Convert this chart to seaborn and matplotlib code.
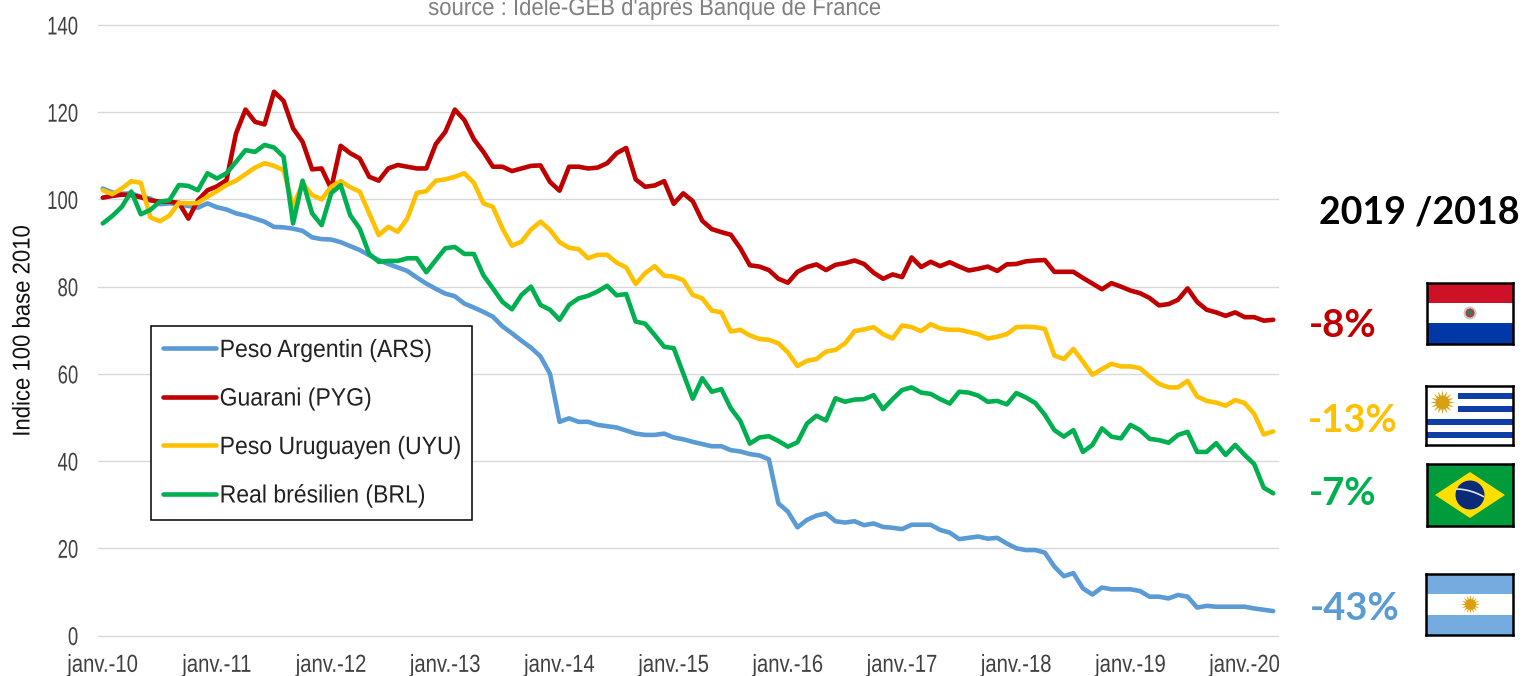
import numpy as np
import pandas as pd
import seaborn as sns
import matplotlib.pyplot as plt
from matplotlib.patches import Circle, Polygon, Rectangle
from matplotlib.patheffects import AbstractPathEffect
from matplotlib.transforms import Affine2D

W, H = 1524, 676

ars = [102.5, 101.6, 101.3, 101.4, 100.6, 100.2, 98.9, 99.1, 98.9, 98.5, 98.1, 99.1,
       98.2, 97.7, 96.8, 96.3, 95.6, 94.9, 93.7, 93.6, 93.3, 92.8, 91.3, 90.9,
       90.8, 90.2, 89.3, 88.4, 87.2, 86.1, 85.2, 84.4, 83.6, 82.1, 80.7, 79.5,
       78.4, 77.8, 76.1, 75.2, 74.2, 73.1, 70.9, 69.3, 67.6, 66, 64, 60,
       49, 49.8, 49, 49, 48.3, 48, 47.7, 47, 46.3, 46, 46, 46.3,
       45.4, 45, 44.4, 43.9, 43.4, 43.4, 42.5, 42.2, 41.6, 41.3, 40.4, 30.3,
       28.4, 24.8, 26.5, 27.5, 28, 26.2, 25.9, 26.2, 25.3, 25.7, 24.9, 24.7,
       24.4, 25.4, 25.4, 25.4, 24.2, 23.6, 22.1, 22.4, 22.7, 22.2, 22.4, 21.1,
       20, 19.6, 19.6, 19, 15.8, 13.6, 14.3, 10.8, 9.4, 11, 10.6, 10.6,
       10.6, 10.2, 8.9, 8.9, 8.5, 9.3, 8.9, 6.4, 6.8, 6.6, 6.6, 6.6,
       6.6, 6.2, 5.9, 5.6]
pyg = [100.4, 100.8, 101.1, 101, 100.5, 99.8, 99.5, 99.5, 99.2, 95.6, 99.8, 102.1,
       103, 104.4, 115.1, 120.6, 117.8, 117.2, 124.7, 122.6, 116.3, 113.2, 106.9, 107.1,
       102.5, 112.3, 110.6, 109.4, 105.2, 104.3, 107.1, 107.9, 107.5, 107.1, 107.1, 112.7,
       115.5, 120.6, 118.2, 113.8, 110.9, 107.5, 107.5, 106.5, 107.1, 107.7, 107.8, 104,
       102, 107.5, 107.5, 107.1, 107.3, 108.3, 110.6, 111.8, 104.6, 102.9, 103.2, 104.2,
       99, 101.4, 99.6, 95.1, 93.2, 92.5, 91.9, 88.8, 84.9, 84.6, 83.8, 81.8,
       80.9, 83.4, 84.5, 85.1, 83.8, 85, 85.4, 86, 85.2, 83.2, 81.8, 82.8,
       82.2, 86.7, 84.5, 85.7, 84.7, 85.6, 84.6, 83.7, 84.1, 84.6, 83.6, 85.1,
       85.2, 85.8, 86, 86.1, 83.4, 83.4, 83.4, 82, 80.7, 79.4, 80.8, 80,
       79.1, 78.5, 77.4, 75.7, 76, 77, 79.6, 76.5, 74.7, 74.1, 73.3, 74.1,
       73, 73, 72.2, 72.4]
uyu = [102.1, 101.2, 102.5, 104.2, 103.8, 95.9, 95, 96.3, 99.2, 99.1, 99.2, 100.6,
       101.9, 103.3, 104.3, 105.8, 107.3, 108.3, 107.7, 106.7, 98.3, 103.7, 101, 100,
       102.9, 104.2, 102.8, 101.8, 96.8, 91.8, 93.7, 92.6, 95.6, 101.5, 101.9, 104.3,
       104.6, 105.2, 106, 103.8, 99.1, 98.3, 93.3, 89.4, 90.3, 93.1, 94.9, 93,
       90.2, 88.9, 88.6, 86.5, 87.3, 87.3, 85.5, 84.4, 80.6, 83.1, 84.7, 82.5,
       82.3, 81.5, 78.1, 77.3, 74.5, 74.1, 69.7, 70.1, 68.8, 68, 67.8, 67,
       64.9, 61.8, 63, 63.4, 65.1, 65.5, 67, 69.8, 70.2, 70.7, 69.1, 68.1,
       71.1, 70.7, 69.8, 71.4, 70.4, 70.1, 70.1, 69.6, 69.1, 68.1, 68.5, 69.1,
       70.7, 70.8, 70.7, 70.3, 64.2, 63.4, 65.7, 62.8, 59.8, 61.1, 62.3, 61.7,
       61.7, 61.3, 59.4, 57.7, 56.9, 56.9, 58.4, 54.8, 53.8, 53.4, 52.7, 54,
       53.3, 50.8, 46.1, 46.8]
brl = [94.5, 96.2, 98.3, 101.8, 96.6, 97.6, 99.5, 99.8, 103.3, 103.1, 102.1, 106,
       104.8, 106, 108.6, 111.3, 110.9, 112.5, 111.9, 109.8, 94.5, 104.3, 96.8, 94.1,
       101.4, 103.3, 96.4, 93.3, 87.5, 85.7, 85.9, 85.9, 86.5, 86.5, 83.3, 86.1,
       88.8, 89.1, 87.5, 87.5, 82.6, 79.6, 76.5, 74.8, 78.1, 80, 75.8, 74.7,
       72.4, 75.8, 77.3, 77.9, 78.9, 80.2, 78, 78.3, 72, 71.5, 68.9, 66.2,
       65.9, 60.1, 54.3, 59, 55.9, 56.5, 52.1, 49.2, 44, 45.4, 45.7, 44.6,
       43.3, 44.3, 48.6, 50.4, 49.3, 54.4, 53.6, 54.1, 54.2, 55.1, 51.9, 54.2,
       56.3, 56.9, 55.7, 55.4, 54.2, 53.2, 55.9, 55.7, 55, 53.6, 53.8, 53,
       55.6, 54.6, 53.3, 50.6, 47.1, 45.6, 47.1, 42.1, 43.7, 47.5, 45.6, 45.2,
       48.3, 47.1, 45.1, 44.8, 44.2, 46, 46.7, 42.1, 42.1, 44.1, 41.4, 43.7,
       41.4, 39.3, 33.9, 32.6]

devises = ['Peso Argentin (ARS)', 'Guarani (PYG)', 'Peso Uruguayen (UYU)', 'Real brésilien (BRL)']
couleurs = ['#5B9BD5', '#C00000', '#FFC000', '#00B050']
annees = ['janv.-10', 'janv.-11', 'janv.-12', 'janv.-13', 'janv.-14', 'janv.-15',
          'janv.-16', 'janv.-17', 'janv.-18', 'janv.-19', 'janv.-20']
yticks = [0, 20, 40, 60, 80, 100, 120, 140]
variations = ['-43%', '-8%', '-13%', '-7%']


class Condense(AbstractPathEffect):
    """Resserre un texte en largeur (pas de police étroite installée)."""

    def __init__(self, sx, anchor=0.5):
        super().__init__()
        self.sx = sx
        self.anchor = anchor

    def draw_path(self, renderer, gc, tpath, affine, rgbFace=None):
        ext = tpath.get_extents()
        x0 = ext.x0 + self.anchor * ext.width
        squeeze = Affine2D().translate(-x0, 0).scale(self.sx, 1).translate(x0, 0)
        renderer.draw_path(gc, tpath, squeeze + affine, rgbFace)


df = pd.DataFrame({'mois': np.arange(len(ars)), devises[0]: ars, devises[1]: pyg,
                   devises[2]: uyu, devises[3]: brl})
df = df.melt(id_vars='mois', var_name='devise', value_name='indice')

sns.set_theme(style='white')
plt.rcParams['font.family'] = ['Liberation Sans', 'DejaVu Sans']

fig = plt.figure(figsize=(W / 100, H / 100), dpi=100)
ax = fig.add_axes([98 / W, 1 - 635.5 / H, 1180 / W, 610.5 / H])
sns.lineplot(data=df, x='mois', y='indice', hue='devise', hue_order=devises,
             palette=couleurs, linewidth=3.3, errorbar=None, ax=ax)
ax.set_xlim(-0.5, 123.5)
ax.set_ylim(0, 140)
ax.set_xticks(np.arange(len(annees)) * 12)
ax.set_xticklabels(annees, fontsize=17.8, color='#404040')
ax.set_yticks(yticks)
ax.set_yticklabels(yticks, fontsize=18.5, color='#404040')
ax.tick_params(axis='x', length=0, pad=12.5)
ax.tick_params(axis='y', length=0, pad=14)
ax.set_xlabel('')
ax.set_ylabel('')
ax.grid(True, axis='y', color='#D9D9D9', linewidth=1)
ax.set_axisbelow(True)
sns.despine(ax=ax, left=True, top=True, right=True, bottom=True)
for g in ax.get_ygridlines():
    g.set_clip_on(False)
for t in ax.get_xticklabels():
    t.set_path_effects([Condense(0.82)])
for t in ax.get_yticklabels():
    t.set_path_effects([Condense(0.72, anchor=1)])

leg = ax.legend(loc='upper left', bbox_to_anchor=(151 / W, 1 - 517 / H, 321 / W, 191 / H),
                bbox_transform=fig.transFigure, mode='expand', fontsize=18, frameon=True,
                fancybox=False, edgecolor='black', framealpha=1, handlelength=2.1,
                handletextpad=0.16, labelspacing=0.98, borderpad=0.48, borderaxespad=0)
leg.get_frame().set_linewidth(1.1)
for t in leg.get_texts():
    t.set_color('#222222')
    t.set_path_effects([Condense(0.92, anchor=0)])

fig.text(23.5 / W, 1 - 331 / H, 'Indice 100 base 2010', rotation=90, ha='center', va='center',
         fontsize=17.5, color='#111111', path_effects=[Condense(0.91)])
fig.text(654 / W, 1 - 15 / H, "source : Idele-GEB d'après Banque de France", ha='center',
         va='baseline', fontsize=17.5, color='#808080', path_effects=[Condense(0.91)])

lato = ['Lato', 'DejaVu Sans']
fig.text(1419.5 / W, 1 - 213 / H, '2019 /2018', ha='center', va='center', fontsize=27,
         fontweight='bold', family=lato, color='black')
for txt, col, x, y in zip(variations, couleurs, [1354.5, 1342.5, 1353, 1342.5], [609, 326, 421, 494]):
    fig.text(x / W, 1 - y / H, txt, ha='center', va='center', fontsize=27.5,
             fontweight='bold', family=lato, color=col)


def flag_axes(x0, y0, x1, y1):
    a = fig.add_axes([x0 / W, 1 - y1 / H, (x1 - x0) / W, (y1 - y0) / H])
    a.set_xlim(0, x1 - x0)
    a.set_ylim(y1 - y0, 0)
    a.set_xticks([])
    a.set_yticks([])
    a.grid(False)
    for s in a.spines.values():
        s.set_edgecolor('black')
        s.set_linewidth(1.8)
    return a


def sun(a, x, y, size, col='#E8A818'):
    a.scatter([x], [y], s=size, marker=(16, 1, 0), color=col, linewidths=0, zorder=3)
    a.scatter([x], [y], s=size * 0.3, marker='o', color='#D9A016', linewidths=0, zorder=4)


# Paraguay
a = flag_axes(1427, 283, 1513, 344)
a.axhspan(0, 20, color='#CE1126', lw=0)
a.axhspan(40, 61, color='#0038A8', lw=0)
a.add_patch(Circle((43, 30), 6.5, fc='#C9C9C9', ec='none'))
a.add_patch(Circle((43, 30), 4.5, fc='#C0392B', ec='none'))
a.add_patch(Circle((43, 30), 2.8, fc='#2E7D6B', ec='none'))

# Uruguay
a = flag_axes(1426, 386, 1513, 445)
for i in [1, 3]:
    a.add_patch(Rectangle((32, i * 6.5), 60, 6.5, fc='#0F3EA6', ec='none'))
for i in [5, 7]:
    a.add_patch(Rectangle((0, i * 6.5), 90, 6.5, fc='#0F3EA6', ec='none'))
sun(a, 16, 16, 310, '#D9A81E')

# Bresil
a = flag_axes(1427, 464, 1513, 526)
a.set_facecolor('#009B3A')
a.add_patch(Polygon([[8, 31], [43, 8], [78, 31], [43, 54]], fc='#FEDF00', ec='none'))
a.add_patch(Circle((43, 31), 14.5, fc='#0B2A78', ec='none'))
arc = np.linspace(-13.5, 13.5, 20)
a.plot(43 + arc, 27 + 0.01 * arc ** 2 + arc * 0.28, color='#DDE6E6', lw=1.2)

# Argentine
a = flag_axes(1426, 574, 1513, 635)
a.axhspan(0, 20, color='#74ACDF', lw=0)
a.axhspan(41, 61, color='#74ACDF', lw=0)
sun(a, 44, 30, 190)

fig.savefig('out.png', dpi=100)
